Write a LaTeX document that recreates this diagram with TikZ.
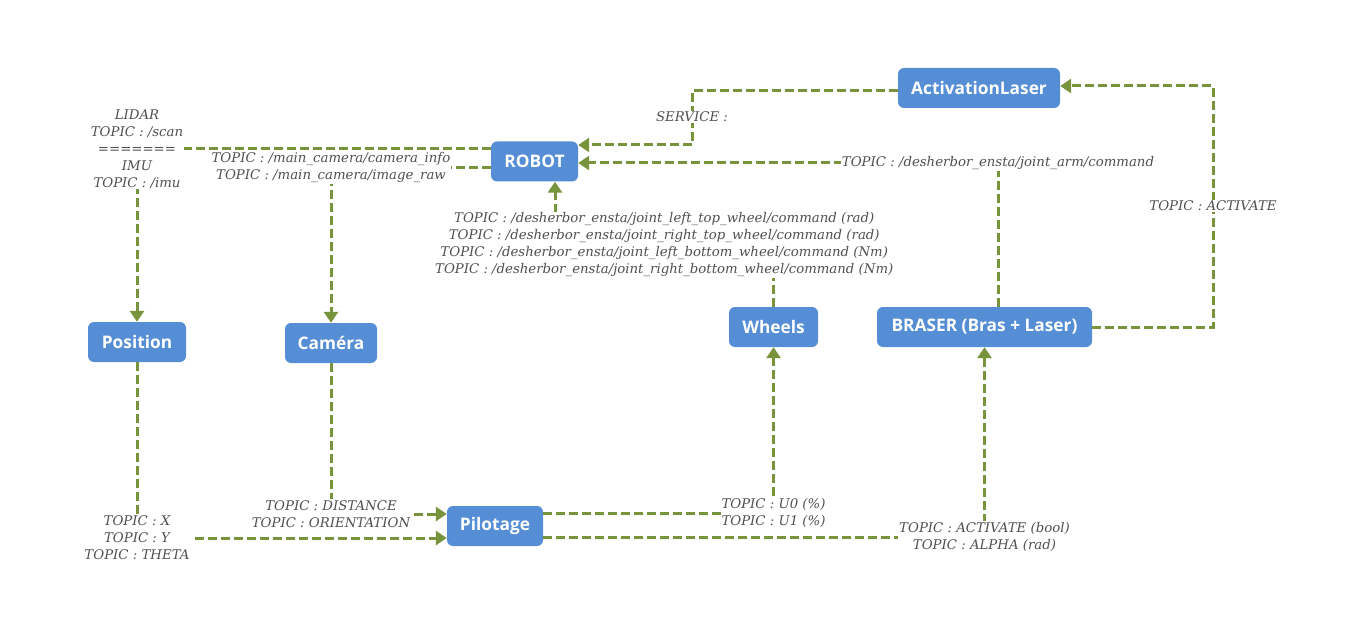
\documentclass[tikz,border=0pt]{standalone}
\usepackage{fontspec}
\setmainfont{DejaVu Serif}
\newfontfamily\boxfont{Open Sans}
\usetikzlibrary{arrows.meta}
\definecolor{boxblue}{RGB}{85,142,213}
\definecolor{linkgreen}{RGB}{119,147,60}
\definecolor{topicgray}{RGB}{80,80,80}
\begin{document}
\begin{tikzpicture}[
    x=1pt, y=-1pt,
    block/.style={rectangle, rounded corners=6pt, fill=boxblue, text=white, font=\boxfont\bfseries\fontsize{17.3}{19}\selectfont, minimum height=40pt, inner sep=0pt},
    arrow/.style={-{Triangle[width=14pt,length=11pt]}, draw=linkgreen, line width=3pt, dash pattern=on 9pt off 4pt},
    topic/.style={fill=white, text=topicgray, font=\itshape\fontsize{13.3}{17}\selectfont, align=center, inner sep=1pt}
]
\useasboundingbox (0,0) rectangle (1362,636);

\node[block, minimum width=162pt] (laser) at (979,88) {ActivationLaser};
\node[block, minimum width=87pt] (robot) at (534.5,161.5) {ROBOT};
\node[block, minimum width=98pt] (position) at (137,342) {Position};
\node[block, minimum width=92pt] (camera) at (331,343) {Caméra};
\node[block, minimum width=89pt] (wheels) at (773.5,327) {Wheels};
\node[block, minimum width=215pt] (braser) at (984.5,327) {BRASER (Bras + Laser)};
\node[block, minimum width=96pt] (pilotage) at (495,526) {Pilotage};

\draw[arrow] ([yshift=12.5pt]robot.west) -| node[topic] {LIDAR\\TOPIC : /scan\\=======\\IMU\\TOPIC : /imu} (position);
\draw[arrow] ([yshift=-6.5pt]robot.west) -| node[topic] {TOPIC : /main\_camera/camera\_info\\TOPIC : /main\_camera/image\_raw} (camera);
\draw[arrow] ([yshift=-3pt]laser.west) -| (692,117) node[topic] {SERVICE :} |- ([yshift=16.5pt]robot.east);
\draw[arrow] ([xshift=13.5pt]braser.north) |- node[topic] {TOPIC : /desherbor\_ensta/joint\_arm/command} ([yshift=-1.5pt]robot.east);
\draw[arrow] (wheels.north) -- ++(0,-62) -| node[topic, pos=0.25] {TOPIC : /desherbor\_ensta/joint\_left\_top\_wheel/command (rad)\\TOPIC : /desherbor\_ensta/joint\_right\_top\_wheel/command (rad)\\TOPIC : /desherbor\_ensta/joint\_left\_bottom\_wheel/command (Nm)\\TOPIC : /desherbor\_ensta/joint\_right\_bottom\_wheel/command (Nm)} ([xshift=20.5pt]robot.south);
\draw[arrow] (braser.east) -| (1213,206) node[topic] {TOPIC : ACTIVATE} |- ([yshift=2pt]laser.east);
\draw[arrow] (position) |- node[topic] {TOPIC : X\\TOPIC : Y\\TOPIC : THETA} ([yshift=-12pt]pilotage.west);
\draw[arrow] (camera) |- node[topic] {TOPIC : DISTANCE\\TOPIC : ORIENTATION} ([yshift=12pt]pilotage.west);
\draw[arrow] ([yshift=13pt]pilotage.east) -| node[topic] {TOPIC : U0 (\%)\\TOPIC : U1 (\%)} (wheels);
\draw[arrow] ([yshift=-11pt]pilotage.east) -| node[topic] {TOPIC : ACTIVATE (bool)\\TOPIC : ALPHA (rad)} (braser);

\end{tikzpicture}
\end{document}
